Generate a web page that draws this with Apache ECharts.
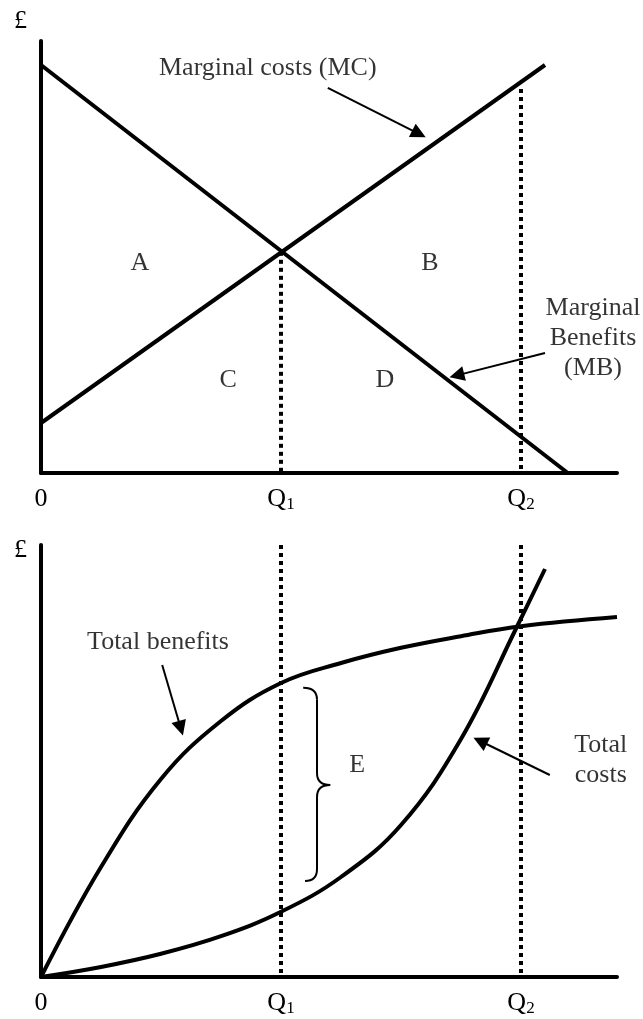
<!DOCTYPE html>
<html>
<head>
<meta charset="utf-8">
<script src="https://cdn.jsdelivr.net/npm/echarts@6/dist/echarts.min.js"></script>
<style>
html,body{margin:0;padding:0;background:#fff;}
#chart{width:643px;height:1019px;}
</style>
</head>
<body>
<div id="chart"></div>
<script>
var FONT = "Liberation Serif";

// quantity axis ticks (shared by both panels)
var xTicks = [0, 4, 8];
var xTickLabels = ["0", "Q1", "Q2"];

// top panel: marginal curves
var mbLine = [[0, 10.2], [8.78, 0]];
var mcLine = [[0, 1.25], [8.4, 10.2]];
var q1TopDots = [[4, 5.53], [4, 0]];
var q2TopDots = [[8, 9.6], [8, 0]];
var topLabels = [
	["A", 1.65, 5.25],
	["B", 6.48, 5.25],
	["C", 3.12, 2.33],
	["D", 5.73, 2.33],
	["Marginal costs (MC)", 3.78, 10.13],
	["Marginal\nBenefits\n(MB)", 9.2, 3.38]
];
var topArrows = [
	[[4.78, 9.63], [6.30, 8.48]],
	[[8.4, 3.0], [6.93, 2.44]]
];

// bottom panel: total curves
var totalBenefits = [[0, 0], [1, 2.75], [2, 4.95], [3, 6.4], [4, 7.35], [5, 7.85], [6, 8.23], [7, 8.52], [8, 8.77], [9.6, 9.0]];
var totalCosts = [[0, 0], [1, 0.25], [2, 0.58], [3, 1.02], [4, 1.63], [5, 2.5], [6, 3.8], [7, 5.95], [7.93, 8.75], [8.4, 10.2]];
var q1BottomDots = [[4, 10.8], [4, 0]];
var q2BottomDots = [[8, 10.8], [8, 0]];
var bottomLabels = [
	["E", 5.27, 5.3],
	["Total benefits", 1.95, 8.38],
	["Total\ncosts", 9.33, 5.43]
];
var bottomArrows = [
	[[2.02, 7.8], [2.33, 6.22]],
	[[8.48, 5.05], [7.32, 5.90]]
];
// brace: top end, bottom end, spine x, tip
var brace = [[4.37, 7.23, 4.4, 2.4, 4.6, 4.82, 4.8]];

var tickFormatter = function(v){
	var i = xTicks.indexOf(v);
	if (i < 0) return "";
	var t = xTickLabels[i];
	if (t.length > 1) return "{q|" + t[0] + "}{s|" + t.slice(1) + "}";
	return "{q|" + t + "}";
};

var makeX = function(gi){
	return {
		type: "value", gridIndex: gi, min: 0, max: 9.6, interval: 4,
		axisLine: {show: true, onZero: false, lineStyle: {color: "#000", width: 4}},
		axisTick: {show: false},
		splitLine: {show: false},
		axisLabel: {
			show: true, margin: 13, showMaxLabel: false,
			formatter: tickFormatter,
			rich: {
				q: {fontFamily: FONT, fontSize: 26, color: "#000"},
				s: {fontFamily: FONT, fontSize: 17, color: "#000", padding: [10, 0, 0, 0]}
			}
		}
	};
};

var makeY = function(gi, gap){
	return {
		type: "value", gridIndex: gi, min: 0, max: 10.8,
		axisLine: {show: true, onZero: false, lineStyle: {color: "#000", width: 4}},
		axisTick: {show: false},
		axisLabel: {show: false},
		splitLine: {show: false},
		name: "£", nameLocation: "end", nameGap: gap,
		nameTextStyle: {fontFamily: FONT, fontSize: 26, color: "#000", align: "right", verticalAlign: "middle", padding: [0, 14, 0, 0]}
	};
};

var solid = function(data, gi, smooth){
	return {
		type: "line", xAxisIndex: gi, yAxisIndex: gi, data: data,
		symbol: "none", clip: false, silent: true,
		smooth: smooth || false,
		lineStyle: {color: "#000", width: 4}
	};
};

var dotted = function(data, gi){
	return {
		type: "line", xAxisIndex: gi, yAxisIndex: gi, data: data,
		symbol: "none", clip: false, silent: true,
		lineStyle: {color: "#000", width: 4, type: [4, 4], cap: "butt"}
	};
};

var texts = function(list, gi){
	var data = [];
	for (var key in list){
		data.push({name: list[key][0], value: [list[key][1], list[key][2]]});
	}
	return {
		type: "scatter", xAxisIndex: gi, yAxisIndex: gi, symbolSize: 0, silent: true,
		data: data,
		label: {show: true, position: "inside", formatter: "{b}", color: "#000",
			fontFamily: FONT, fontSize: 26, lineHeight: 30, align: "center"}
	};
};

var arrows = function(list, gi){
	var data = [];
	for (var key in list){
		data.push({coords: list[key]});
	}
	return {
		type: "lines", coordinateSystem: "cartesian2d", xAxisIndex: gi, yAxisIndex: gi,
		data: data, silent: true,
		symbol: ["none", "triangle"], symbolSize: 15,
		lineStyle: {color: "#000", width: 2, opacity: 1, curveness: 0}
	};
};

var braceSeries = {
	type: "custom", xAxisIndex: 1, yAxisIndex: 1, data: brace, silent: true,
	renderItem: function(params, api){
		var top = api.coord([api.value(0), api.value(1)]);
		var bot = api.coord([api.value(2), api.value(3)]);
		var sx = api.coord([api.value(4), 0])[0];
		var tip = api.coord([api.value(5), api.value(6)]);
		var r = 12;
		var st = {stroke: "#000", lineWidth: 2, fill: "none"};
		return {type: "group", children: [
			{type: "bezierCurve", shape: {x1: top[0], y1: top[1], x2: sx, y2: top[1] + r, cpx1: sx, cpy1: top[1]}, style: st},
			{type: "line", shape: {x1: sx, y1: top[1] + r, x2: sx, y2: tip[1] - r}, style: st},
			{type: "bezierCurve", shape: {x1: sx, y1: tip[1] - r, x2: tip[0], y2: tip[1], cpx1: sx, cpy1: tip[1]}, style: st},
			{type: "bezierCurve", shape: {x1: tip[0], y1: tip[1], x2: sx, y2: tip[1] + r, cpx1: sx, cpy1: tip[1]}, style: st},
			{type: "line", shape: {x1: sx, y1: tip[1] + r, x2: sx, y2: bot[1] - r}, style: st},
			{type: "bezierCurve", shape: {x1: sx, y1: bot[1] - r, x2: bot[0], y2: bot[1], cpx1: sx, cpy1: bot[1]}, style: st}
		]};
	}
};

var chart = echarts.init(document.getElementById("chart"));
chart.setOption({
	animation: false,
	backgroundColor: "#fff",
	textStyle: {fontFamily: FONT},
	grid: [
		{left: 41, top: 41, width: 576, height: 432},
		{left: 41, top: 545, width: 576, height: 432}
	],
	xAxis: [makeX(0), makeX(1)],
	yAxis: [makeY(0, 19.5), makeY(1, -5)],
	series: [
		dotted(q1TopDots, 0),
		dotted(q2TopDots, 0),
		solid(mbLine, 0),
		solid(mcLine, 0),
		texts(topLabels, 0),
		arrows(topArrows, 0),
		dotted(q1BottomDots, 1),
		dotted(q2BottomDots, 1),
		solid(totalBenefits, 1, 0.4),
		solid(totalCosts, 1, 0.4),
		texts(bottomLabels, 1),
		arrows(bottomArrows, 1),
		braceSeries
	]
});
</script>
</body>
</html>
